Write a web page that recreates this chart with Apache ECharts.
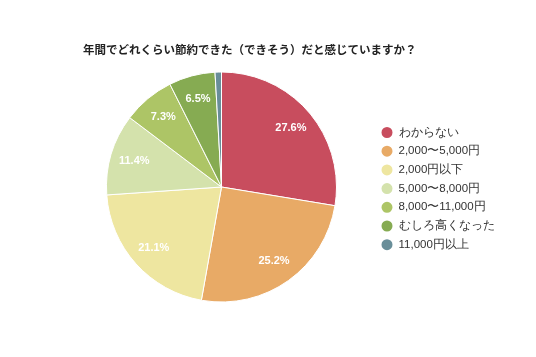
<!DOCTYPE html>
<html>
<head>
<meta charset="utf-8">
<script src="https://cdn.jsdelivr.net/npm/echarts@6/dist/echarts.min.js"></script>
<style>
html,body{margin:0;padding:0;background:#fff;}
#c{width:536px;height:357px;}
</style>
</head>
<body>
<div id="c"></div>
<script>
const titleText = '年間でどれくらい節約できた（できそう）だと感じていますか？';
const categories = ['わからない', '2,000〜5,000円', '2,000円以下', '5,000〜8,000円', '8,000〜11,000円', 'むしろ高くなった', '11,000円以上'];
const values = [27.6, 25.2, 21.1, 11.4, 7.3, 6.5, 0.9];
const colors = ['#C84D5E', '#E8AA66', '#EEE6A0', '#D4E2AC', '#ADC566', '#86AB52', '#698E99'];

const data = categories.map((n, i) => ({ name: n, value: values[i] }));

const chart = echarts.init(document.getElementById('c'), null, { renderer: 'canvas' });
chart.setOption({
  animation: false,
  color: colors,
  title: {
    text: titleText,
    left: 78,
    top: 39,
    textStyle: { fontSize: 11.5, fontWeight: 'bold', color: '#222', fontFamily: 'Noto Sans CJK JP, sans-serif' }
  },
  legend: {
    orient: 'vertical',
    left: 374.5,
    top: 120,
    icon: 'circle',
    itemWidth: 13,
    itemHeight: 13,
    itemGap: 3.7,
    data: categories,
    textStyle: { fontSize: 11.5, color: '#333', fontFamily: 'sans-serif' }
  },
  series: [
    {
      type: 'pie',
      center: [221.5, 187],
      radius: [0, 115],
      startAngle: 90,
      clockwise: true,
      data: data,
      itemStyle: { borderColor: '#fff', borderWidth: 1 },
      label: { show: false },
      labelLine: { show: false },
      silent: true
    },
    {
      type: 'pie',
      center: [221.5, 187],
      radius: [61, 115],
      startAngle: 90,
      clockwise: true,
      silent: true,
      legendHoverLink: false,
      data: data.map((d, i) => ({
        name: d.name,
        value: d.value,
        label: { show: i < 6 }
      })),
      itemStyle: { color: 'rgba(0,0,0,0)' },
      label: {
        position: 'inside',
        formatter: p => p.value.toFixed(1) + '%',
        color: '#fff',
        fontSize: 11,
        fontWeight: 'bold',
        fontFamily: 'sans-serif'
      },
      labelLine: { show: false }
    }
  ]
});
</script>
</body>
</html>
